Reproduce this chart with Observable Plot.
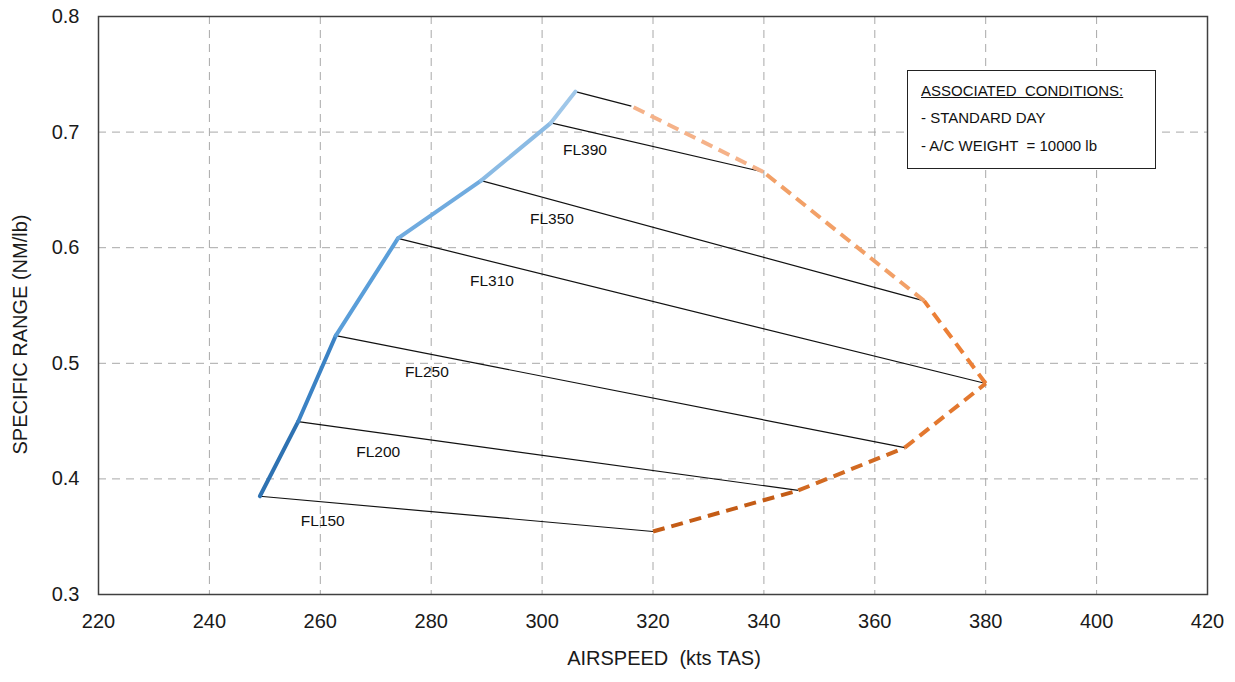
<!DOCTYPE html>
<html>
<head>
<meta charset="utf-8">
<script src="https://cdn.jsdelivr.net/npm/d3@7"></script>
<script src="https://cdn.jsdelivr.net/npm/@observablehq/plot@0.6"></script>
<style>
  html, body { margin: 0; padding: 0; background: #fff; }
  #wrap { position: relative; width: 1235px; height: 682px; }
  svg text { white-space: pre; }
  #legend {
    position: absolute; left: 907px; top: 70px; width: 247px; height: 97px;
    border: 1.5px solid #222; background: #fff;
    font-family: "Liberation Sans", Arial, sans-serif; font-size: 15px; line-height: 17px; color: #111;
    box-sizing: content-box;
  }
  #legend div { position: absolute; left: 13px; white-space: pre; }
</style>
</head>
<body>
<div id="wrap">
  <div id="chart"></div>
  <div id="legend">
    <div style="top:11px;text-decoration:underline;">ASSOCIATED  CONDITIONS:</div>
    <div style="top:38px;">- STANDARD DAY</div>
    <div style="top:66px;">- A/C WEIGHT  = 10000 lb</div>
  </div>
</div>
<script>
// Flight levels (top one unlabeled in the reference)
const levels = ["FL150", "FL200", "FL250", "FL310", "FL350", "FL390", "FL430"];
const levelLabels = ["FL150", "FL200", "FL250", "FL310", "FL350", "FL390", ""];
// Left end (minimum speed / max range) of each line
const minSpeed = [249.1, 256.0, 262.8, 274.0, 289.0, 301.6, 306.0];
const minSR    = [0.385, 0.4495, 0.524, 0.608, 0.658, 0.708, 0.735];
// Right end (maximum speed) of each line
const maxSpeed = [320.0, 346.2, 365.4, 380.0, 368.9, 339.9, 316.1];
const maxSR    = [0.3545, 0.390, 0.427, 0.4825, 0.554, 0.6655, 0.7225];
// Boundary segment colours (bottom -> top)
const blueColors   = ["#2e72b2", "#3b82c4", "#5a9ed9", "#70abdf", "#8bbbe4", "#9fc7e9"];
const orangeColors = ["#c45c16", "#d26a22", "#e3782f", "#ec8037", "#f2a067", "#f5b289"];
// Axis ticks
const xTicks = [220, 240, 260, 280, 300, 320, 340, 360, 380, 400, 420];
const yTicks = [0.3, 0.4, 0.5, 0.6, 0.7, 0.8];
const xTitle = "AIRSPEED  (kts TAS)";
const yTitle = "SPECIFIC RANGE (NM/lb)";

const rows = levels.map((fl, i) => ({
  fl, label: levelLabels[i],
  x1: minSpeed[i], y1: minSR[i], x2: maxSpeed[i], y2: maxSR[i]
}));
const leftSegs = [], rightSegs = [];
for (let i = 0; i < levels.length - 1; i++) {
  leftSegs.push({x1: minSpeed[i], y1: minSR[i], x2: minSpeed[i + 1], y2: minSR[i + 1], c: blueColors[i]});
  rightSegs.push({x1: maxSpeed[i], y1: maxSR[i], x2: maxSpeed[i + 1], y2: maxSR[i + 1], c: orangeColors[i]});
}
const labelRows = rows.filter(d => d.label).map(d => ({
  label: d.label,
  x: d.x1 + 0.16 * (d.x2 - d.x1),
  y: d.y1 + 0.16 * (d.y2 - d.y1)
}));

const gridStyle = {stroke: "#a8a8a8", strokeOpacity: 1, strokeWidth: 1, strokeDasharray: "8,6"};

const chart = Plot.plot({
  width: 1235, height: 682,
  marginLeft: 98, marginRight: 28, marginTop: 16, marginBottom: 88,
  x: {domain: [220, 420]},
  y: {domain: [0.3, 0.8]},
  style: {fontFamily: "'Liberation Sans', Arial, sans-serif", fontSize: "20px", color: "#1a1a1a", background: "#fff", overflow: "visible"},
  marks: [
    Plot.gridX(xTicks, gridStyle),
    Plot.gridY(yTicks, gridStyle),
    Plot.axisX({ticks: xTicks, tickSize: 0, tickPadding: 19, tickFormat: d => String(d), label: null, fontSize: 20}),
    Plot.axisY({ticks: yTicks, tickSize: 0, tickPadding: 19, tickFormat: d3.format(".1f"), label: null, fontSize: 20}),
    Plot.text([xTitle], {frameAnchor: "bottom", textAnchor: "middle", dx: 11, dy: 70, fontSize: 20, fill: "#1a1a1a"}),
    Plot.text([yTitle], {frameAnchor: "left", textAnchor: "middle", dx: -78, dy: 29, rotate: -90, fontSize: 20, fill: "#1a1a1a"}),
    Plot.link(rows, {x1: "x1", y1: "y1", x2: "x2", y2: "y2", stroke: "#111", strokeWidth: 1.2}),
    Plot.link(rightSegs, {x1: "x1", y1: "y1", x2: "x2", y2: "y2", stroke: d => d.c, strokeWidth: 4, strokeDasharray: "12,7"}),
    Plot.link(leftSegs, {x1: "x1", y1: "y1", x2: "x2", y2: "y2", stroke: d => d.c, strokeWidth: 4, strokeLinecap: "round"}),
    Plot.text(labelRows, {x: "x", y: "y", text: "label", dy: 19, fontSize: 15.5, fill: "#111"}),
    Plot.frame({stroke: "#404040", strokeWidth: 1.5})
  ]
});
document.getElementById("chart").appendChild(chart);
</script>
</body>
</html>
